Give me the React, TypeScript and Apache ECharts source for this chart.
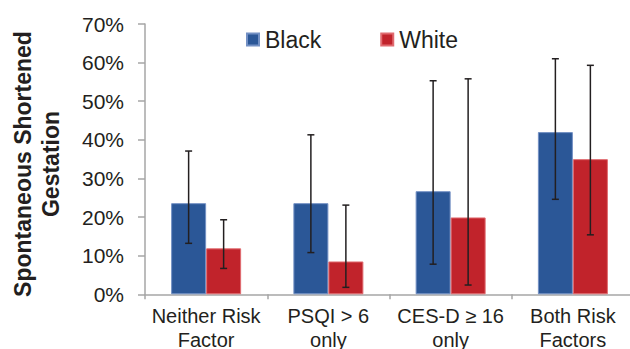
import React, { useEffect, useRef } from "react";
import * as echarts from "echarts";

const categories = ["Neither Risk\nFactor", "PSQI > 6\nonly", "CES-D ≥ 16\nonly", "Both Risk\nFactors"];
const blackValues = [23.6, 23.6, 26.7, 42.0];
const blackLow = [13.2, 10.8, 7.8, 24.6];
const blackHigh = [37.1, 41.3, 55.3, 61.0];
const whiteValues = [11.9, 8.5, 19.9, 35.0];
const whiteLow = [6.7, 1.8, 2.4, 15.4];
const whiteHigh = [19.3, 23.1, 55.8, 59.3];
const yTicks = [0, 10, 20, 30, 40, 50, 60, 70];

const BAR_W = 35;
const FONT = "'Liberation Sans', Arial, Helvetica, sans-serif";
const TEXT = "#231f20";

function errorSeries(name: string, low: number[], high: number[], sign: number) {
  return {
    type: "custom",
    name: name + " error",
    z: 5,
    silent: true,
    data: low.map((l, i) => [i, l, high[i]]),
    renderItem: (params: any, api: any) => {
      const idx = api.value(0);
      const lo = api.coord([idx, api.value(1)]);
      const hi = api.coord([idx, api.value(2)]);
      const x = lo[0] + sign * BAR_W / 2;
      const cap = 3.5;
      const style = { stroke: "#231f20", lineWidth: 1.5 };
      return {
        type: "group",
        children: [
          { type: "line", shape: { x1: x, y1: lo[1], x2: x, y2: hi[1] }, style },
          { type: "line", shape: { x1: x - cap, y1: hi[1], x2: x + cap, y2: hi[1] }, style },
          { type: "line", shape: { x1: x - cap, y1: lo[1], x2: x + cap, y2: lo[1] }, style },
        ],
      };
    },
  };
}

export default function App() {
  const ref = useRef<HTMLDivElement>(null);
  useEffect(() => {
    const prevOverflow = document.body.style.overflow;
    document.body.style.overflow = "hidden";
    if (!ref.current) return;
    const chart = echarts.init(ref.current, undefined, { renderer: "svg" });
    chart.setOption({
      animation: false,
      backgroundColor: "#ffffff",
      textStyle: { fontFamily: FONT },
      legend: {
        data: ["Black", "White"],
        left: 246,
        top: 28,
        padding: 0,
        itemWidth: 12,
        itemHeight: 12,
        itemGap: 59,
        icon: "rect",
        textStyle: { fontSize: 23, color: TEXT, fontFamily: FONT, padding: [0, 0, 0, 1] },
      },
      grid: {
        left: 145,
        top: 24,
        width: 489,
        height: 270.3,
        containLabel: false,
        outerBoundsMode: "none",
      },
      xAxis: {
        type: "category",
        data: categories,
        axisLine: { lineStyle: { color: "#a6a6a6", width: 1.5 } },
        axisTick: { show: true, length: 5, lineStyle: { color: "#a6a6a6", width: 1.5 } },
        axisLabel: { fontSize: 20, color: TEXT, lineHeight: 24, margin: 10, fontFamily: FONT, interval: 0 },
      },
      yAxis: {
        type: "value",
        min: 0,
        max: 70,
        interval: 10,
        splitLine: { show: false },
        axisLine: { show: true, lineStyle: { color: "#a6a6a6", width: 1.5 } },
        axisTick: { show: true, length: 7, lineStyle: { color: "#a6a6a6", width: 1.5 } },
        axisLabel: {
          fontSize: 21,
          color: TEXT,
          margin: 21,
          fontFamily: FONT,
          formatter: (v: number) => (yTicks.includes(v) ? v + "%" : ""),
        },
      },
      graphic: [
        {
          type: "text",
          x: 37,
          y: 164,
          rotation: Math.PI / 2,
          style: {
            text: "Spontaneous Shortened\nGestation",
            font: "bold 23px " + FONT,
            fill: TEXT,
            align: "center",
            verticalAlign: "middle",
            lineHeight: 28,
          },
        },
      ],
      series: [
        {
          type: "bar",
          name: "Black",
          data: blackValues,
          barWidth: BAR_W,
          barGap: "0%",
          itemStyle: { color: "#2b5797", borderColor: "#7390c4", borderWidth: 1 },
        },
        {
          type: "bar",
          name: "White",
          data: whiteValues,
          barWidth: BAR_W,
          barGap: "0%",
          itemStyle: { color: "#c1232b", borderColor: "#e06a6f", borderWidth: 1 },
        },
        errorSeries("Black", blackLow, blackHigh, -1),
        errorSeries("White", whiteLow, whiteHigh, 1),
      ],
    });
    return () => {
      chart.dispose();
      document.body.style.overflow = prevOverflow;
    };
  }, []);
  return (
    <div style={{ width: 630, height: 349, position: "fixed", left: 0, top: 0, overflow: "hidden" }}>
      <div ref={ref} style={{ width: 630, height: 349 }} />
    </div>
  );
}
